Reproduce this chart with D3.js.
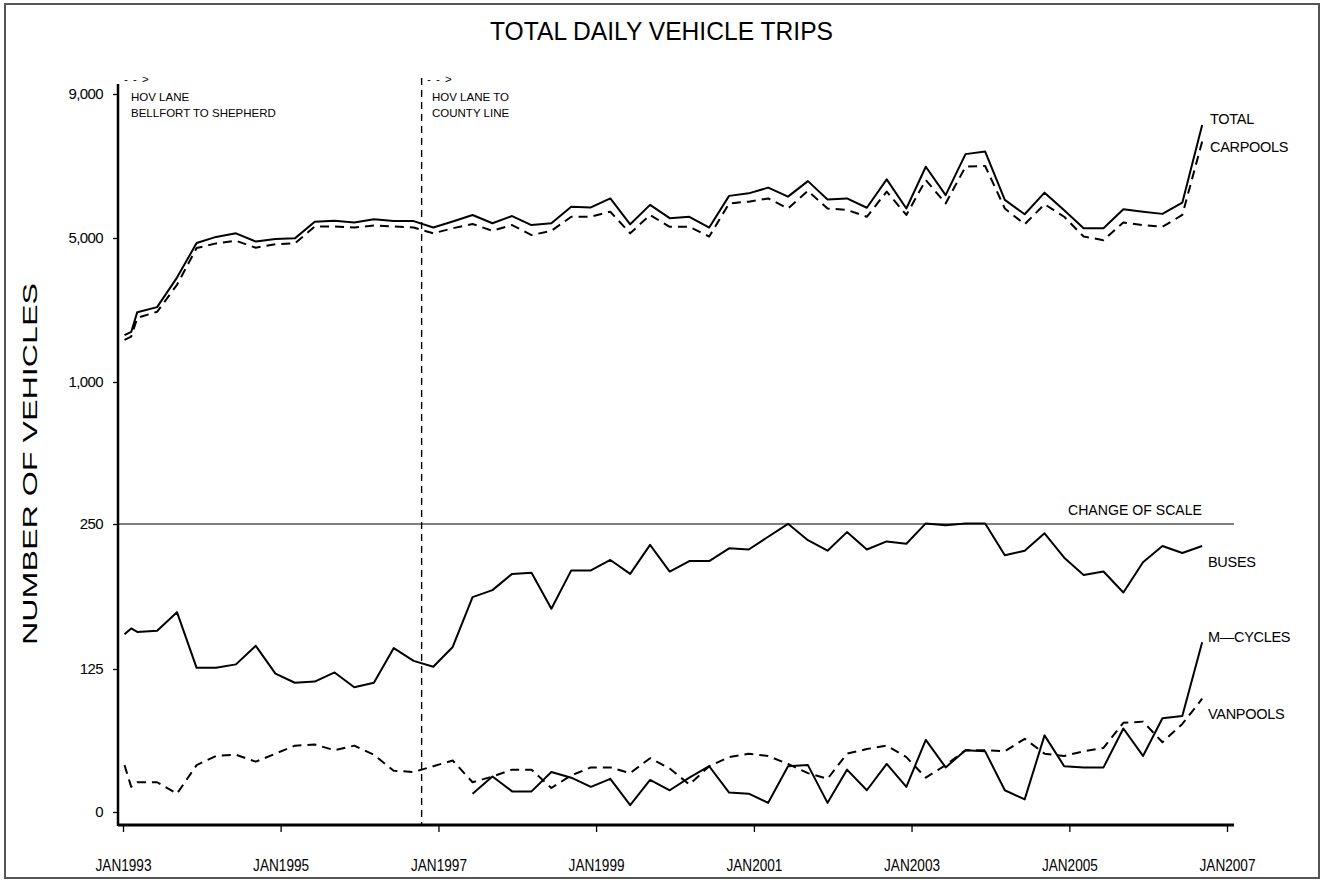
<!DOCTYPE html>
<html>
<head>
<meta charset="utf-8">
<script src="https://cdn.jsdelivr.net/npm/d3@7"></script>
<style>
  html, body { margin: 0; padding: 0; background: #fff; }
  svg text { font-family: "Liberation Sans Narrow", "Liberation Sans", Arial, sans-serif; fill: #000; }
</style>
</head>
<body>
<svg id="chart" width="1323" height="882"></svg>
<script>
// ---- DATA ----
const months = ["1993-01","1993-02","1993-03","1993-06","1993-09","1993-12",
  "1994-03","1994-06","1994-09","1994-12","1995-03","1995-06","1995-09","1995-12",
  "1996-03","1996-06","1996-09","1996-12","1997-03","1997-06","1997-09","1997-12",
  "1998-03","1998-06","1998-09","1998-12","1999-03","1999-06","1999-09","1999-12",
  "2000-03","2000-06","2000-09","2000-12","2001-03","2001-06","2001-09","2001-12",
  "2002-03","2002-06","2002-09","2002-12","2003-03","2003-06","2003-09","2003-12",
  "2004-03","2004-06","2004-09","2004-12","2005-03","2005-06","2005-09","2005-12",
  "2006-03","2006-06","2006-09"];
const total = [2300,2390,2940,3080,3900,4860,5030,5130,4900,4970,4990,5450,5480,5430,
  5520,5470,5470,5290,5460,5640,5410,5610,5360,5410,5870,5850,6100,5380,5920,5550,
  5590,5290,6170,6240,6400,6150,6580,6070,6100,5840,6630,5820,6980,6190,7330,7400,
  6060,5660,6260,5770,5270,5270,5800,5730,5670,5980,8140];
const carpools = [2170,2260,2780,2950,3700,4720,4850,4925,4730,4830,4850,5320,5320,5290,
  5350,5320,5290,5130,5270,5390,5200,5360,5080,5200,5590,5590,5730,5130,5640,5310,
  5310,5040,5960,6010,6100,5820,6310,5820,5780,5590,6290,5640,6610,5960,6980,7000,
  5820,5380,5940,5590,5040,4940,5430,5360,5310,5640,7680];
const buses = [155,160,157,158,174,126,126,129,145,121,113,114,122,109,113,143,132,127,
  144,187,193,207,208,177,210,210,219,207,232,209,218,218,229,228,239,251,236,227,
  243,228,235,233,253,249,253,253,223,227,242,221,206,209,191,217,231,225,231];
const mcycles = [null,null,null,null,null,null,null,null,null,null,null,null,null,null,
  null,null,null,null,null,16,31,18,18,35,30,22,29,6,28,19,30,40,17,16,8,40,41,8,37,
  19,42,22,63,39,54,53,19,11,67,40,39,39,73,49,82,84,148];
const vanpools = [41,22,26,26,16,41,49,50,44,51,58,59,54,58,50,36,35,40,45,26,31,37,37,
  21,32,39,39,34,47,38,24,40,48,51,49,42,34,29,51,55,58,48,30,41,54,54,53,64,51,49,
  53,56,78,79,61,77,99];
const yTickValues = [0, 125, 250, 1000, 5000, 9000];
const xTickLabels = ["JAN1993","JAN1995","JAN1997","JAN1999","JAN2001","JAN2003","JAN2005","JAN2007"];
const seriesNames = ["TOTAL","CARPOOLS","BUSES","M\u2014CYCLES","VANPOOLS"];

// ---- SCALES ----
const parse = d3.utcParse("%Y-%m");
const dates = months.map(m => { const d = parse(m); d.setUTCDate(8); return d; });
const x = d3.scaleUtc().domain([new Date(Date.UTC(1993,0,1)), new Date(Date.UTC(2007,0,1))]).range([123, 1227]);
const y = d3.scaleLinear().domain([0,125,250,1000,5000,9000]).range([812,669,524,382,238,94]);

const svg = d3.select("#chart");

// frame
svg.append("rect").attr("x",5).attr("y",4).attr("width",1314).attr("height",874)
  .attr("fill","none").attr("stroke","#555").attr("stroke-width",2);

// title
svg.append("text").attr("x",661.5).attr("y",40).attr("text-anchor","middle")
  .attr("font-size",25).attr("textLength",343).attr("lengthAdjust","spacingAndGlyphs")
  .text("TOTAL DAILY VEHICLE TRIPS");

// y axis label
svg.append("text").attr("transform","translate(37,464) rotate(-90)")
  .attr("text-anchor","middle").attr("font-size",20)
  .attr("textLength",362).attr("lengthAdjust","spacingAndGlyphs")
  .text("NUMBER OF VEHICLES");

// x axis
const xAxis = d3.axisBottom(x)
  .tickValues(xTickLabels.map((_,i) => new Date(Date.UTC(1993 + 2*i,0,1))))
  .tickFormat((d,i) => xTickLabels[i]).tickSizeOuter(0).tickSize(7).tickPadding(27);
const gx = svg.append("g").attr("transform","translate(0,825)").call(xAxis);
gx.select(".domain").attr("stroke","#000").attr("stroke-width",3).attr("d","M118,0H1234");
gx.selectAll(".tick line").attr("stroke","#000").attr("stroke-width",1.3);
gx.selectAll(".tick text").attr("font-size",16.5)
  .attr("textLength",56).attr("lengthAdjust","spacingAndGlyphs")
  .attr("font-family","'Liberation Sans Narrow','Liberation Sans',Arial,sans-serif");

// y axis
const yAxis = d3.axisLeft(y).tickValues(yTickValues).tickFormat(d3.format(","))
  .tickSize(5).tickPadding(10).tickSizeOuter(0);
const gy = svg.append("g").attr("transform","translate(118,0)").call(yAxis);
gy.select(".domain").attr("stroke","#000").attr("stroke-width",2.5).attr("d","M0,84V826");
gy.selectAll(".tick line").attr("stroke","#000").attr("stroke-width",1.3);
gy.selectAll(".tick text").attr("font-size",15).attr("letter-spacing",-0.6)
  .attr("font-family","'Liberation Sans Narrow','Liberation Sans',Arial,sans-serif");

// change of scale line
svg.append("line").attr("x1",118).attr("x2",1234).attr("y1",y(250)).attr("y2",y(250))
  .attr("stroke","#000").attr("stroke-width",1.2);
svg.append("text").attr("x",1068).attr("y",y(250)-9).attr("font-size",14.5)
  .attr("textLength",134).attr("lengthAdjust","spacingAndGlyphs").text("CHANGE OF SCALE");

// HOV vertical dashed line
const hovDate = new Date(Date.UTC(1996,9,15));
svg.append("line").attr("x1",x(hovDate)).attr("x2",x(hovDate))
  .attr("y1",78).attr("y2",825).attr("stroke","#000").attr("stroke-width",1.4)
  .attr("stroke-dasharray","7,5");

// annotations
const ann = svg.append("g").attr("font-size",11.5);
ann.append("text").attr("x",124).attr("y",83).attr("letter-spacing",1).text("- - >");
ann.append("text").attr("x",131).attr("y",101).text("HOV LANE");
ann.append("text").attr("x",131).attr("y",117).text("BELLFORT TO SHEPHERD");
ann.append("text").attr("x",427).attr("y",83).attr("letter-spacing",1).text("- - >");
ann.append("text").attr("x",432).attr("y",101).text("HOV LANE TO");
ann.append("text").attr("x",432).attr("y",117).text("COUNTY LINE");

// lines
const line = d3.line().defined(d => d[1] != null).x(d => x(d[0])).y(d => y(d[1]));
function draw(vals, dashed) {
  svg.append("path").datum(dates.map((d,i) => [d, vals[i]]))
    .attr("d", line).attr("fill","none").attr("stroke","#000")
    .attr("stroke-width", 2).attr("stroke-linejoin","round")
    .attr("stroke-dasharray", dashed ? "9,6" : null);
}
draw(total, false);
draw(carpools, true);
draw(buses, false);
draw(mcycles, false);
draw(vanpools, true);

// series labels
const lab = svg.append("g").attr("font-size",14.5).attr("letter-spacing",-0.3);
lab.append("text").attr("x",1210).attr("y",124).text(seriesNames[0]);
lab.append("text").attr("x",1210).attr("y",152).text(seriesNames[1]);
lab.append("text").attr("x",1208).attr("y",567).text(seriesNames[2]);
lab.append("text").attr("x",1208).attr("y",642).text(seriesNames[3]);
lab.append("text").attr("x",1208).attr("y",719).text(seriesNames[4]);
</script>
</body>
</html>
